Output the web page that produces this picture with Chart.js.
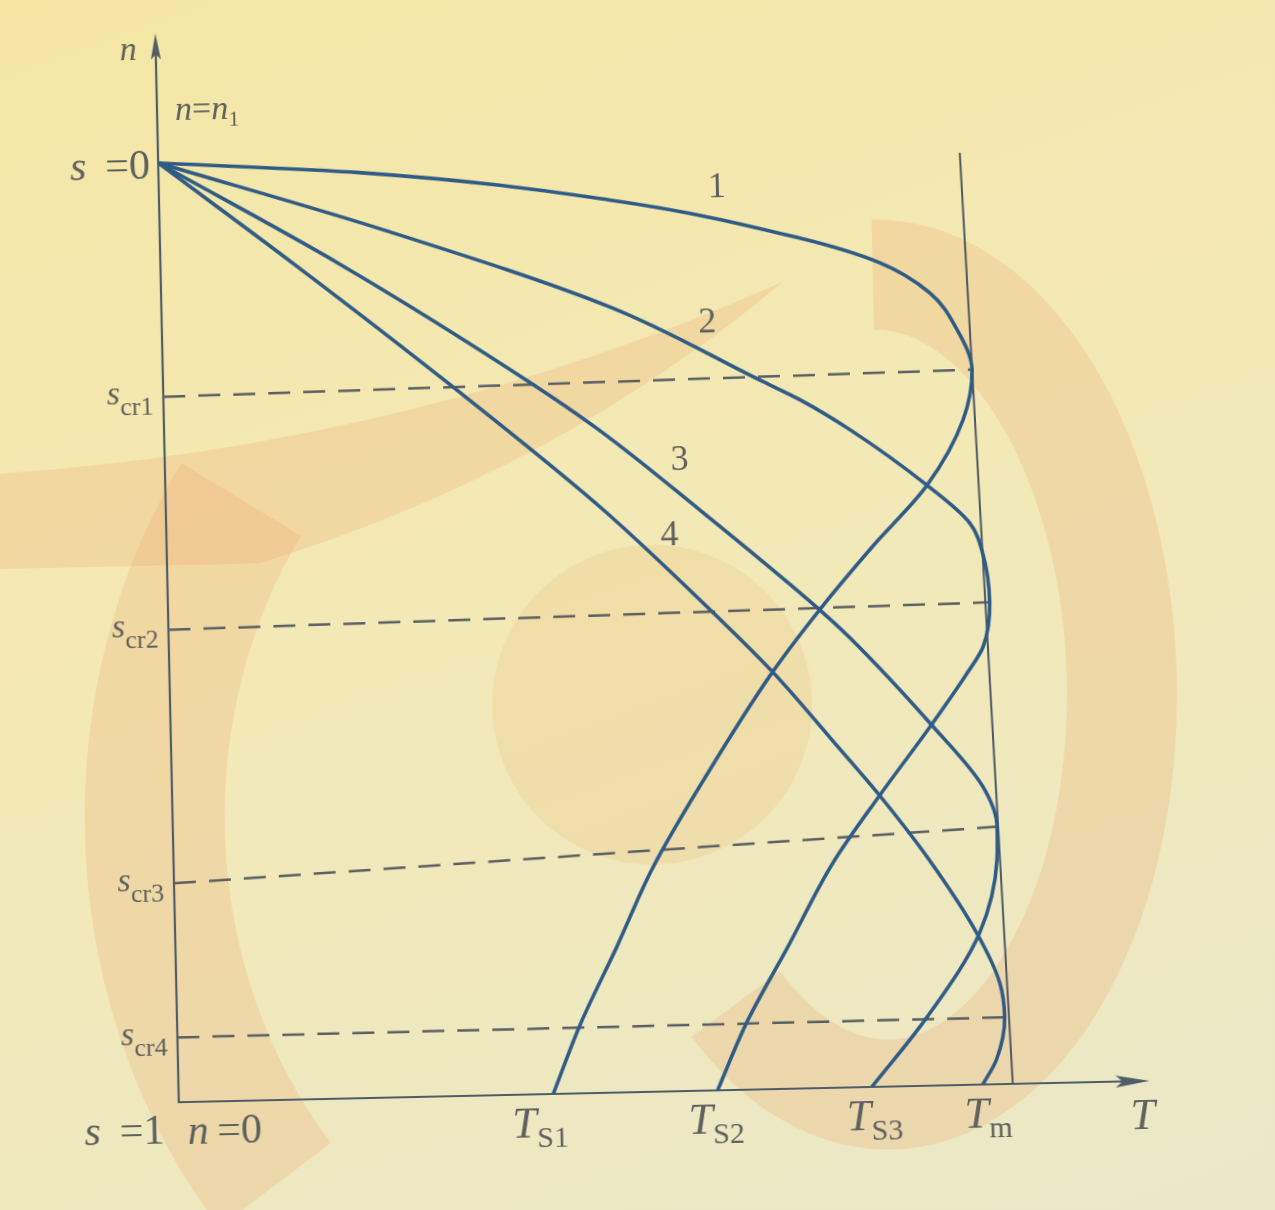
<!DOCTYPE html>
<html>
<head>
<meta charset="utf-8">
<script src="https://cdn.jsdelivr.net/npm/chart.js@4/dist/chart.umd.min.js"></script>
<style>
  html, body { margin: 0; padding: 0; overflow: hidden; }
  body { width: 1275px; height: 1210px; background: linear-gradient(160deg, #f5e6a4 0%, #f3e9b6 45%, #eae8c9 100%); }
  #wrap { width: 1275px; height: 1210px; transform: rotate(-1.26deg); transform-origin: 637.5px 605px; }
</style>
</head>
<body>
<div id="wrap"><canvas id="chart" width="1275" height="1210"></canvas></div>
<script>
// torque T (in units of the Tm line foot) against slip s
const curve1T = [0, 0.241, 0.540, 0.767, 0.862, 0.921, 0.953, 0.970, 0.958, 0.913, 0.846, 0.781, 0.723, 0.637, 0.574, 0.529, 0.483, 0.449]
const curve1S = [0, 0.015, 0.050, 0.095, 0.123, 0.156, 0.196, 0.239, 0.292, 0.361, 0.425, 0.491, 0.556, 0.670, 0.762, 0.845, 0.927, 1]
const curve2T = [0, 0.270, 0.538, 0.715, 0.763, 0.822, 0.913, 0.963, 0.978, 0.985, 0.976, 0.956, 0.912, 0.848, 0.790, 0.734, 0.683, 0.646]
const curve2S = [0, 0.077, 0.164, 0.245, 0.267, 0.300, 0.361, 0.402, 0.435, 0.487, 0.534, 0.562, 0.616, 0.690, 0.761, 0.849, 0.928, 1]
const curve3T = [0, 0.217, 0.436, 0.522, 0.640, 0.781, 0.816, 0.912, 0.972, 0.988, 0.987, 0.964, 0.899, 0.831]
const curve3S = [0, 0.113, 0.240, 0.295, 0.382, 0.491, 0.521, 0.616, 0.683, 0.726, 0.761, 0.839, 0.927, 1]
const curve4T = [0, 0.159, 0.347, 0.520, 0.646, 0.723, 0.800, 0.848, 0.906, 0.961, 0.987, 0.992, 0.981, 0.964]
const curve4S = [0, 0.110, 0.245, 0.376, 0.485, 0.556, 0.638, 0.690, 0.760, 0.839, 0.892, 0.929, 0.974, 1]

const curveNames = ['1', '2', '3', '4']
const curveLabelT = [0.669, 0.654, 0.617, 0.603]
const curveLabelS = [0.049, 0.193, 0.339, 0.419]

// critical slips where the dashed lines leave the n axis
const scrLabels = ['cr1', 'cr2', 'cr3', 'cr4']
const scrLeft = [0.249, 0.497, 0.767, 0.931]

// the Tm line (slightly slanted in the scan)
const tmLineT = [0.961, 1.0]
const tmLineS = [0.008, 1.0]

// tick labels on the T axis
const tickSubs = ['S1', 'S2', 'S3', 'm']
const tickT = [0.433, 0.644, 0.834, 0.970]

const curveColor = '#2f5b86'
const axisColor = '#4f5d69'
const textColor = '#5e615d'

const IT = px => `italic ${px}px "Liberation Serif", "DejaVu Serif", serif`
const RM = px => `${px}px "Liberation Serif", "DejaVu Serif", serif`

const toPoints = (ts, ss) => ts.map((t, i) => ({ x: t, y: ss[i] }))

const curves = [[curve1T, curve1S], [curve2T, curve2S], [curve3T, curve3S], [curve4T, curve4S]]

const peakOf = (ts, ss) => {
    let k = 0
    ts.forEach((t, i) => { if (t > ts[k]) k = i })
    return { x: ts[k], y: ss[k] }
}

const datasets = []
curves.forEach((c, i) => {
    datasets.push({
        label: 'dash' + (i + 1),
        data: [{ x: 0, y: scrLeft[i] }, peakOf(c[0], c[1])],
        showLine: true,
        pointRadius: 0,
        borderColor: '#5a5f62',
        borderWidth: 2.5,
        borderDash: [22, 13],
        order: 3
    })
})
datasets.push({
    label: 'Tm',
    data: toPoints(tmLineT, tmLineS),
    showLine: true,
    pointRadius: 0,
    borderColor: '#4d5863',
    borderWidth: 2,
    order: 2
})
curves.forEach((c, i) => {
    datasets.push({
        label: 'curve ' + curveNames[i],
        data: toPoints(c[0], c[1]),
        indexAxis: 'y',
        showLine: true,
        pointRadius: 0,
        borderColor: curveColor,
        borderWidth: 3.6,
        cubicInterpolationMode: 'monotone',
        order: 1
    })
})

const richText = (ctx, parts, x, y, align) => {
    let w = 0
    parts.forEach(p => { ctx.font = p[1]; w += ctx.measureText(p[0]).width })
    let cx = align === 'right' ? x - w : align === 'center' ? x - w / 2 : x
    parts.forEach(p => {
        ctx.font = p[1]
        ctx.fillText(p[0], cx, y + (p[2] || 0))
        cx += ctx.measureText(p[0]).width
    })
}

// faded orange watermark of the scanned page
const paperPlugin = {
    id: 'paper',
    beforeDraw(chart) {
        const ctx = chart.ctx
        ctx.save()
        ctx.fillStyle = 'rgba(236, 168, 110, 0.26)'
        ctx.strokeStyle = 'rgba(236, 168, 110, 0.26)'
        // swoosh
        ctx.beginPath()
        ctx.moveTo(0, 460)
        ctx.quadraticCurveTo(420, 440, 790, 285)
        ctx.quadraticCurveTo(560, 470, 260, 555)
        ctx.lineTo(0, 555)
        ctx.closePath()
        ctx.fill()
        // left crescent
        ctx.lineWidth = 140
        ctx.beginPath()
        ctx.ellipse(640, 820, 490, 560, 0, Math.PI * 0.78, Math.PI * 1.2)
        ctx.stroke()
        // right arc
        ctx.lineWidth = 110
        ctx.beginPath()
        ctx.ellipse(880, 690, 240, 410, 0, -Math.PI * 0.5, Math.PI * 0.72)
        ctx.stroke()
        // ball
        ctx.fillStyle = 'rgba(236, 180, 110, 0.22)'
        ctx.beginPath()
        ctx.arc(650, 705, 160, 0, Math.PI * 2)
        ctx.fill()
        ctx.restore()
    }
}

const axesPlugin = {
    id: 'axesText',
    beforeDatasetsDraw(chart) {
        const { ctx, scales: { x, y } } = chart
        const x0 = x.getPixelForValue(0)
        const y0 = y.getPixelForValue(1)
        const yTip = y.getPixelForValue(-0.138)
        const xTip = x.getPixelForValue(1.164)
        ctx.save()
        ctx.strokeStyle = axisColor
        ctx.fillStyle = axisColor
        ctx.lineWidth = 2.2
        ctx.beginPath()
        ctx.moveTo(x0, yTip + 10)
        ctx.lineTo(x0, y0)
        ctx.lineTo(xTip - 10, y0)
        ctx.stroke()
        // arrow heads
        ctx.beginPath()
        ctx.moveTo(x0, yTip)
        ctx.lineTo(x0 + 5, yTip + 26)
        ctx.lineTo(x0, yTip + 21)
        ctx.lineTo(x0 - 5, yTip + 26)
        ctx.closePath()
        ctx.fill()
        ctx.beginPath()
        ctx.moveTo(xTip, y0)
        ctx.lineTo(xTip - 34, y0 - 6)
        ctx.lineTo(xTip - 27, y0)
        ctx.lineTo(xTip - 34, y0 + 6)
        ctx.closePath()
        ctx.fill()
        ctx.restore()
    },
    afterDatasetsDraw(chart) {
        const { ctx, scales: { x, y } } = chart
        ctx.save()
        ctx.fillStyle = textColor
        ctx.textBaseline = 'alphabetic'
        // n axis
        richText(ctx, [['n', IT(34)]], x.getPixelForValue(-0.033), y.getPixelForValue(-0.110), 'center')
        richText(ctx, [['n', IT(34)], ['=', RM(34)], ['n', IT(34)], ['1', RM(22), 7]],
            x.getPixelForValue(0.0216), y.getPixelForValue(-0.045), 'left')
        richText(ctx, [['s', IT(42)], ['\u2009 =0', RM(42)]], x.getPixelForValue(-0.010), y.getPixelForValue(0.0167), 'right')
        scrLabels.forEach((lab, i) => {
            richText(ctx, [['s', IT(34)], [lab, RM(26), 11]],
                x.getPixelForValue(-0.012), y.getPixelForValue(scrLeft[i]) + 7, 'right')
        })
        richText(ctx, [['s', IT(42)], ['\u2009 =1', RM(42)]], x.getPixelForValue(-0.018), y.getPixelForValue(1.044), 'right')
        richText(ctx, [['n', IT(42)], ['\u2009=0', RM(42)]], x.getPixelForValue(0.010), y.getPixelForValue(1.045), 'left')
        // T axis
        tickSubs.forEach((sub, i) => {
            richText(ctx, [['T', IT(44)], [sub, RM(30), 10]],
                x.getPixelForValue(tickT[i]), y.getPixelForValue(1.046), 'center')
        })
        richText(ctx, [['T', IT(44)]], x.getPixelForValue(1.155), y.getPixelForValue(1.051), 'center')
        // curve numbers
        curveNames.forEach((name, i) => {
            richText(ctx, [[name, RM(36)]], x.getPixelForValue(curveLabelT[i]), y.getPixelForValue(curveLabelS[i]), 'center')
        })
        ctx.restore()
    }
}

const ctx = document.getElementById('chart')
const torqueChart = new Chart(ctx, {
    type: 'scatter',
    data: { datasets: datasets },
    options: {
        responsive: false,
        animation: false,
        layout: { padding: { left: 168, right: 106, top: 21, bottom: 118 } },
        scales: {
            x: { type: 'linear', min: 0, max: 1.2, display: false },
            y: { type: 'linear', min: -0.14, max: 1, reverse: true, display: false }
        },
        plugins: {
            legend: { display: false },
            tooltip: { enabled: false }
        }
    },
    plugins: [paperPlugin, axesPlugin]
})
</script>
</body>
</html>
